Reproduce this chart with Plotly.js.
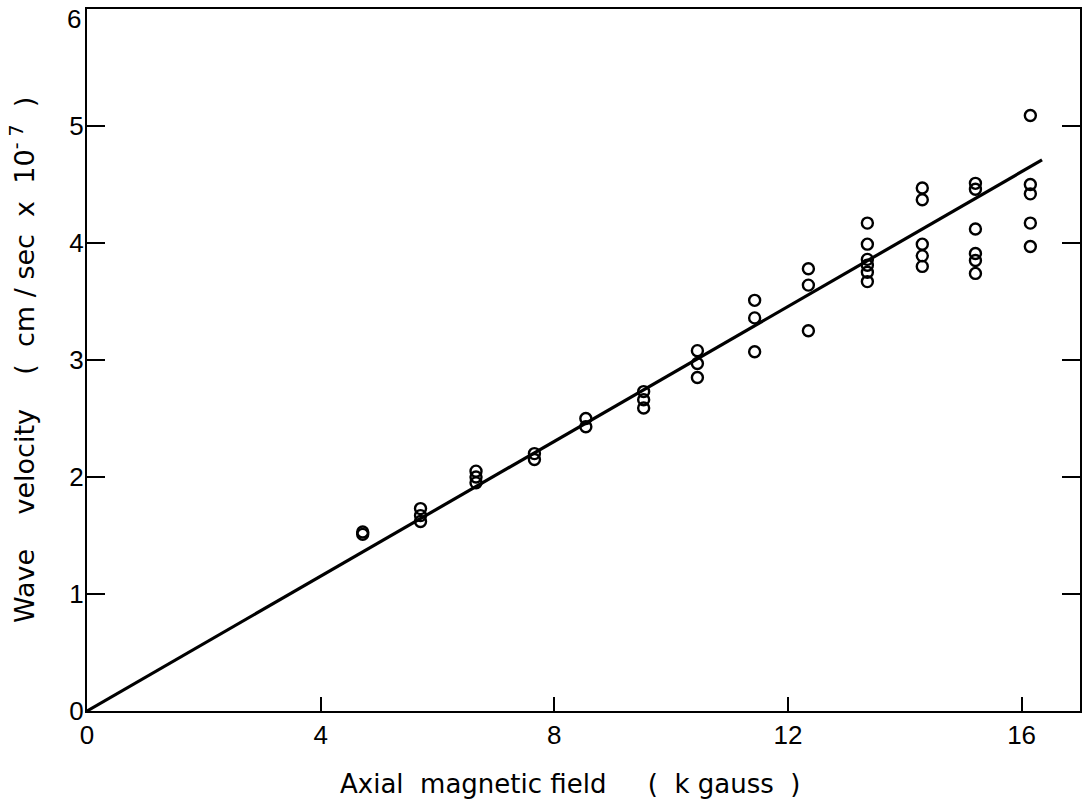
<!DOCTYPE html>
<html>
<head>
<meta charset="utf-8">
<script src="https://cdn.plot.ly/plotly-3.0.1.min.js"></script>
<style>html,body{margin:0;padding:0;background:#fff;}#chart{width:1084px;height:812px;}</style>
</head>
<body>
<div id="chart"></div>
<script>
// Measured data: axial magnetic field (k gauss) vs wave velocity (cm/sec x 1e-7)
const fieldX = [
  4.72, 4.72,
  5.71, 5.71, 5.71,
  6.66, 6.66, 6.66,
  7.66, 7.66,
  8.54, 8.54,
  9.53, 9.53, 9.53,
  10.45, 10.45, 10.45,
  11.43, 11.43, 11.43,
  12.35, 12.35, 12.35,
  13.36, 13.36, 13.36, 13.36, 13.36, 13.36,
  14.30, 14.30, 14.30, 14.30, 14.30,
  15.21, 15.21, 15.21, 15.21, 15.21, 15.21,
  16.15, 16.15, 16.15, 16.15, 16.15
];
const velocityY = [
  1.53, 1.51,
  1.73, 1.67, 1.62,
  2.05, 2.00, 1.95,
  2.20, 2.15,
  2.50, 2.43,
  2.73, 2.66, 2.59,
  3.08, 2.97, 2.85,
  3.51, 3.36, 3.07,
  3.78, 3.64, 3.25,
  4.17, 3.99, 3.86, 3.81, 3.75, 3.67,
  4.47, 4.37, 3.99, 3.89, 3.80,
  4.51, 4.46, 4.12, 3.91, 3.85, 3.74,
  5.09, 4.50, 4.42, 4.17, 3.97
];
const fitX = [0, 16.35];
const fitY = [0, 4.71];
const xTicks = [0, 4, 8, 12, 16];
const yTicks = [0, 1, 2, 3, 4, 5, 6];
const yTopLabel = yTicks[yTicks.length - 1];

const font = "'Liberation Sans', Arial, sans-serif";
const titleFont = "'DejaVu Sans', 'Liberation Sans', sans-serif";

const traces = [
  {x: fitX, y: fitY, mode: 'lines', type: 'scatter',
   line: {color: '#000', width: 3.2}, hoverinfo: 'skip'},
  {x: fieldX, y: velocityY, mode: 'markers', type: 'scatter',
   marker: {symbol: 'circle-open', size: 11, color: '#000', line: {width: 2.4, color: '#000'}}}
];

const layout = {
  width: 1084, height: 812,
  paper_bgcolor: '#fff', plot_bgcolor: '#fff',
  showlegend: false,
  margin: {l: 87, r: 4, t: 9, b: 101},
  font: {family: font, color: '#000'},
  xaxis: {
    range: [0, 17], tickvals: xTicks, ticktext: xTicks.map(String),
    ticks: 'inside', ticklen: 14, tickwidth: 2, tickcolor: '#000',
    showline: true, linecolor: '#000', linewidth: 2, mirror: true,
    showgrid: false, zeroline: false,
    tickfont: {size: 26, family: font}, ticklabelstandoff: 0,
    ticklabeloverflow: 'allow'
  },
  yaxis: {
    range: [0, 6.0], tickvals: yTicks,
    ticktext: yTicks.map(v => v === yTopLabel ? '' : String(v)),
    ticks: 'inside', ticklen: 18, tickwidth: 2, tickcolor: '#000',
    showline: true, linecolor: '#000', linewidth: 2, mirror: 'ticks',
    showgrid: false, zeroline: false,
    tickfont: {size: 26, family: font}, ticklabelstandoff: -4,
    ticklabeloverflow: 'allow'
  },
  annotations: [
    {text: String(yTopLabel), xref: 'paper', yref: 'y', x: 0, y: yTopLabel,
     xanchor: 'right', yanchor: 'middle', xshift: -4, yshift: -10, showarrow: false,
     font: {size: 26, family: font, color: '#000'}},
    {text: 'Axial  magnetic field     (  k gauss  )', xref: 'paper', yref: 'paper',
     x: 0.4865, y: 0, xanchor: 'center', yanchor: 'middle', yshift: -73, showarrow: false,
     font: {size: 26, family: titleFont, color: '#000'}},
    {text: 'Wave    velocity    (  cm / sec  x  10<sup>- 7</sup>  )', xref: 'paper', yref: 'paper',
     x: -0.0655, y: 0.5, xanchor: 'center', yanchor: 'middle', textangle: -90, showarrow: false,
     font: {size: 27, family: titleFont, color: '#000'}}
  ]
};

Plotly.newPlot('chart', traces, layout, {staticPlot: true, displayModeBar: false});
</script>
</body>
</html>
